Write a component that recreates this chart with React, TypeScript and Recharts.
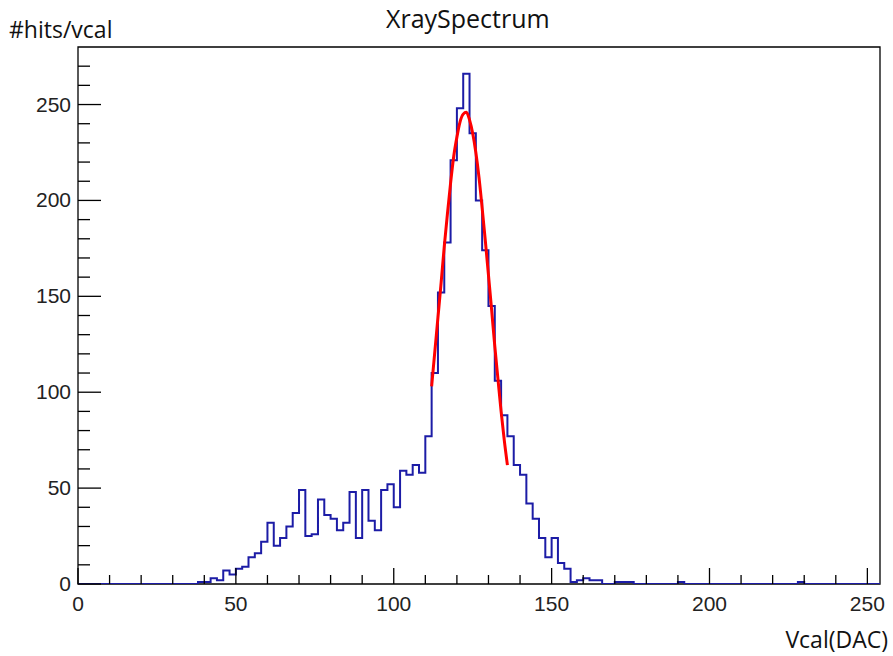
import React from "react"
import { ComposedChart, Line, XAxis, YAxis, ReferenceArea } from "recharts"

// 2-wide bins from 0 to 254, counts
const binWidth = 2
const counts = [
  0, 0, 0, 0, 0, 0, 0, 0, 0, 0,
  0, 0, 0, 0, 0, 0, 0, 0, 0, 1,
  1, 3, 2, 7, 5, 8, 9, 14, 16, 22,
  32, 20, 24, 30, 37, 49, 25, 26, 44, 36,
  34, 28, 32, 48, 24, 49, 33, 28, 49, 52,
  40, 59, 57, 62, 58, 77, 110, 152, 178, 221,
  248, 266, 235, 200, 174, 145, 106, 88, 77, 62,
  57, 42, 34, 24, 14, 24, 11, 8, 1, 2,
  3, 2, 2, 0, 0, 1, 1, 1, 0, 0,
  0, 0, 0, 0, 0, 1, 0, 0, 0, 0,
  0, 0, 0, 0, 0, 0, 0, 0, 0, 0,
  0, 0, 0, 0, 1, 0, 0, 0, 0, 0,
  0, 0, 0, 0, 0, 0, 0,
]

// gaussian fit curve, read point by point
const fitX = [
  112, 113, 114, 115, 116, 117, 118, 119, 120, 121, 122, 123, 124,
  125, 126, 127, 128, 129, 130, 131, 132, 133, 134, 135, 136,
]
const fitY = [
  103, 121, 139, 157, 176, 193, 209, 223, 233, 241, 245, 246, 242,
  235, 225, 212, 196, 179, 161, 143, 124, 107, 90, 75, 62,
]

const xTicks = [
  0, 10, 20, 30, 40, 50, 60, 70, 80, 90, 100, 110, 120, 130, 140, 150,
  160, 170, 180, 190, 200, 210, 220, 230, 240, 250,
]
const yTicks = [
  0, 10, 20, 30, 40, 50, 60, 70, 80, 90, 100, 110, 120, 130, 140, 150,
  160, 170, 180, 190, 200, 210, 220, 230, 240, 250, 260, 270,
]

const xMax = counts.length * binWidth

const rows = new Map<number, any>()
counts.forEach((c, i) => rows.set(i * binWidth, { x: i * binWidth, hits: c }))
rows.set(xMax, { x: xMax, hits: counts[counts.length - 1] })
fitX.forEach((x, i) => {
  const r = rows.get(x) || { x }
  r.fit = fitY[i]
  rows.set(x, r)
})
const data = Array.from(rows.values()).sort((a, b) => a.x - b.x)

const labelFont = "'Liberation Sans', Arial, sans-serif"

const XTick = (props: any) => {
  const { x, y, payload } = props
  const major = payload.value % 50 === 0
  return (
    <g>
      <line x1={x} x2={x} y1={y} y2={y - (major ? 16 : 9)} stroke="#000" strokeWidth={1.3} />
      {major && (
        <text x={x} y={y + 27} textAnchor="middle" fontSize={21} fontFamily={labelFont} fill="#222">
          {payload.value}
        </text>
      )}
    </g>
  )
}

const YTick = (props: any) => {
  const { x, y, payload } = props
  const major = payload.value % 50 === 0
  return (
    <g>
      <line x1={x} x2={x + (major ? 23 : 12)} y1={y} y2={y} stroke="#000" strokeWidth={1.3} />
      {major && (
        <text x={x - 7} y={y + 7} textAnchor="end" fontSize={21} fontFamily={labelFont} fill="#222">
          {payload.value}
        </text>
      )}
    </g>
  )
}

const textFont = "'Open Sans', 'Noto Sans', sans-serif"

export default function App() {
  return (
    <div style={{ position: "absolute", left: 0, top: 0, width: 893, height: 656, background: "#fff" }}>
      <div style={{ position: "absolute", left: 386, top: 3, fontSize: 25, fontFamily: textFont, color: "#111", lineHeight: 1.2 }}>
        XraySpectrum
      </div>
      <div style={{ position: "absolute", left: 9, top: 16, fontSize: 23, fontFamily: textFont, color: "#111", lineHeight: 1.2 }}>
        #hits/vcal
      </div>
      <div style={{ position: "absolute", right: 5, top: 626, fontSize: 23, fontFamily: textFont, color: "#111", lineHeight: 1.2 }}>
        Vcal(DAC)
      </div>
      <ComposedChart
        width={893}
        height={656}
        data={data}
        margin={{ top: 47, right: 13, bottom: 42, left: 18 }}
      >
        <XAxis
          dataKey="x"
          type="number"
          domain={[0, xMax]}
          ticks={xTicks}
          interval={0}
          tick={<XTick />}
          tickLine={false}
          tickSize={0}
          tickMargin={0}
          axisLine={false}
          height={30}
          allowDataOverflow
        />
        <YAxis
          type="number"
          domain={[0, 280]}
          ticks={yTicks}
          interval={0}
          tick={<YTick />}
          tickLine={false}
          tickSize={0}
          tickMargin={0}
          axisLine={false}
          width={60}
          allowDataOverflow
        />
        <Line
          dataKey="hits"
          type="stepAfter"
          stroke="#1c1ca6"
          strokeWidth={2}
          dot={false}
          connectNulls
          isAnimationActive={false}
        />
        <Line
          dataKey="fit"
          type="monotone"
          stroke="#ff0000"
          strokeWidth={3}
          dot={false}
          connectNulls
          isAnimationActive={false}
        />
        <ReferenceArea x1={0} x2={xMax} y1={0} y2={280} fill="none" stroke="#000" strokeWidth={1.3} fillOpacity={0} />
      </ComposedChart>
    </div>
  )
}
